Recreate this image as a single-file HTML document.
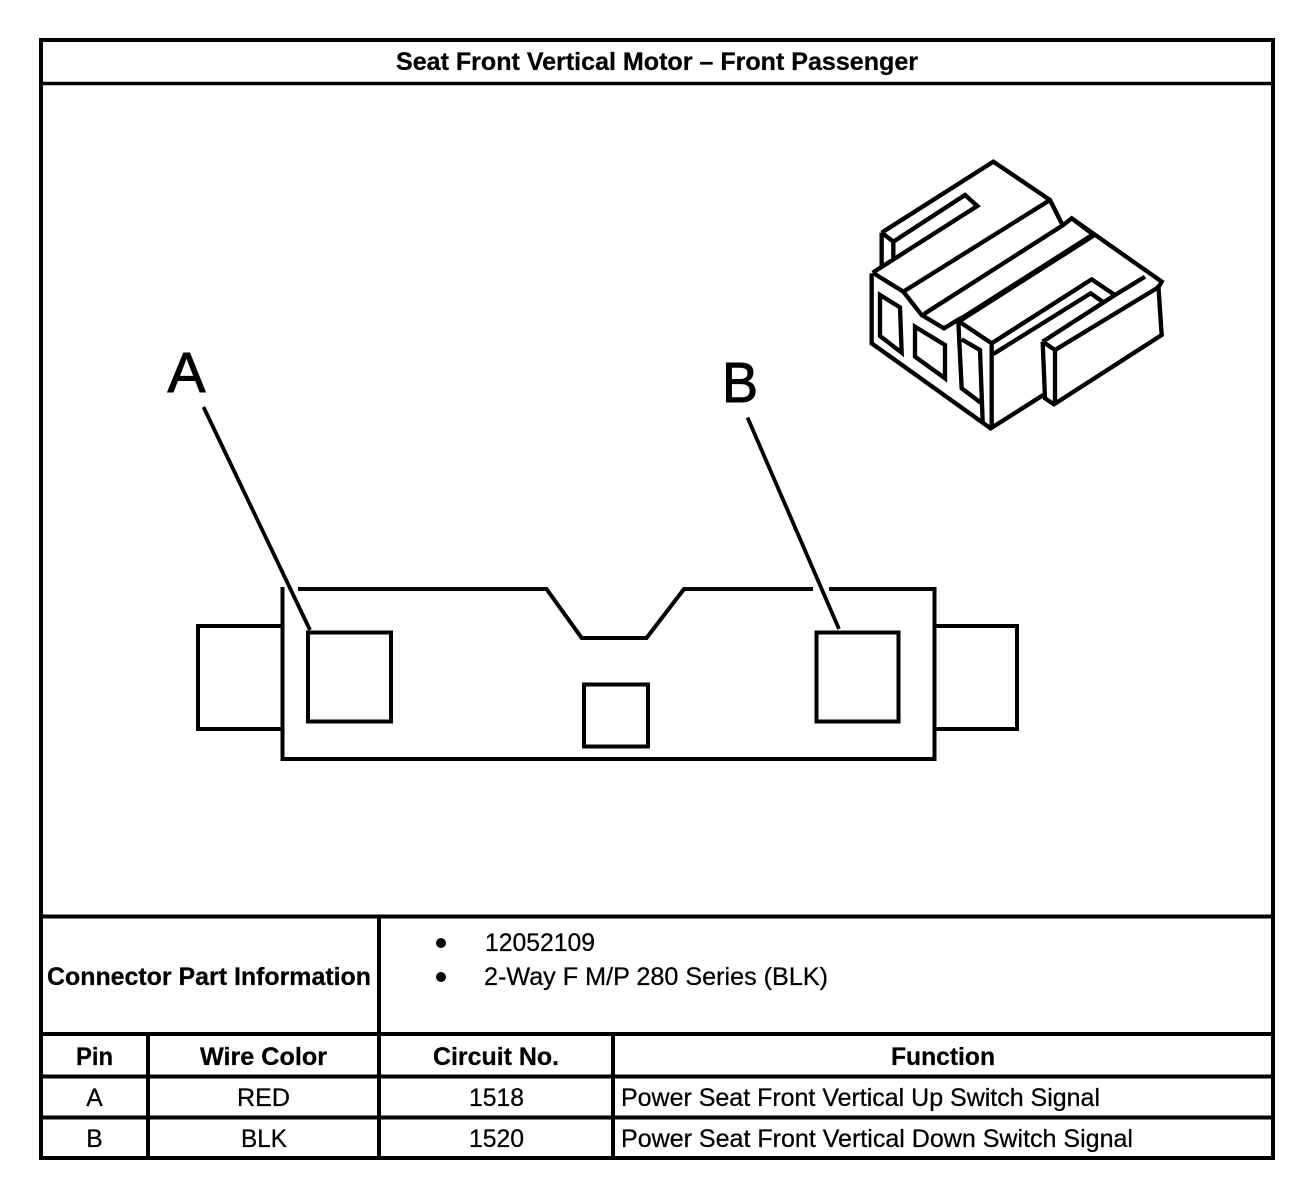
<!DOCTYPE html>
<html><head><meta charset="utf-8"><style>
html,body{margin:0;padding:0;background:#fff;width:1312px;height:1186px;overflow:hidden}
svg{display:block}
text{font-family:"Liberation Sans",Arial,sans-serif;fill:#000;font-size:24.7px;stroke:#000;stroke-width:.25px}
.b{font-weight:bold}
.m{text-anchor:middle}
</style></head><body>
<svg width="1312" height="1186" viewBox="0 0 1312 1186" xmlns="http://www.w3.org/2000/svg">
<rect width="1312" height="1186" fill="#fff"/>
<!-- Frame and table -->
<g fill="none" stroke="#000" stroke-width="4">
<rect x="41" y="40" width="1232" height="1118"/>
<path d="M41 83.5H1273" stroke-width="3.5"/>
<path d="M41 916.5H1273M41 1034H1273M41 1076.500H1273M41 1117.500H1273"/>
<path d="M379 916.500V1158M148 1034V1158M613 1034V1158"/>
</g>
<!-- Title -->
<text class="b m" x="657" y="70" textLength="522" lengthAdjust="spacingAndGlyphs">Seat Front Vertical Motor – Front Passenger</text>
<!-- Front view -->
<g fill="none" stroke="#000" stroke-width="4" stroke-linejoin="miter">
<path d="M282.500 587V759H934.500V589H684L646.500 638H581.700L546.500 589H298"/>
<path d="M281 626H198V729H281"/>
<path d="M936 626H1017V729H936"/>
<rect x="308" y="632.500" width="83" height="89"/>
<rect x="816.500" y="632.500" width="82" height="89"/>
<rect x="584" y="684.500" width="64" height="62"/>
</g>
<rect x="813" y="586" width="16" height="7" fill="#fff"/>
<g stroke="#000" stroke-width="3.800" fill="none">
<path d="M203.500 407L310 630"/>
<path d="M747.500 417.500L839 629"/>
</g>
<text x="167.500" y="392" style="font-size:57px;stroke-width:1px">A</text>
<text x="722" y="402" style="font-size:57px;stroke-width:1px" textLength="36" lengthAdjust="spacingAndGlyphs">B</text>
<!-- Isometric connector -->
<g transform="translate(850 150) scale(.33333)" fill="none" stroke="#000" stroke-width="13" stroke-linejoin="miter">
<path d="M95 248L430 35L600 150L636 222"/>
<path d="M95 248V348M95 248L130 275V330M130 275L345 135L382 168L68 368"/>
<path d="M600 150L160 425"/>
<path d="M68 368L160 425L215 495L282 535L335 503"/>
<path d="M222 492L640 225L665 205L935 395L925 412"/>
<path d="M665 205L728 252"/>
<path d="M330 510L730 255" stroke-width="17"/>
<path d="M328 515L425 580L725 388L795 435L885 380"/>
<path d="M430 612L722 430L765 460"/>
<path d="M578 575L795 435M615 600L925 412"/>
<path d="M578 575L615 600L615 760"/>
<path d="M578 575L585 745L612 763L935 555L925 405"/>
<path d="M425 580V835"/>
<path d="M65 370L65 580L422 835L580 735"/>
<path d="M325 515L335 715L395 760"/>
<path d="M335 568L390 600L398 815"/>
<path d="M90 435L150 472L155 608L90 558Z"/>
<path d="M195 530L285 585L285 685L195 620Z"/>
</g>
<!-- Table text -->
<text class="b" x="47" y="985" textLength="324" lengthAdjust="spacingAndGlyphs">Connector Part Information</text>
<circle cx="441" cy="943" r="5"/>
<circle cx="441" cy="977" r="5"/>
<text x="485" y="951" textLength="110" lengthAdjust="spacingAndGlyphs">12052109</text>
<text x="484" y="985" textLength="344" lengthAdjust="spacingAndGlyphs">2-Way F M/P 280 Series (BLK)</text>
<text class="b m" x="94.500" y="1065" textLength="37" lengthAdjust="spacingAndGlyphs">Pin</text>
<text class="b m" x="263.500" y="1065" textLength="127" lengthAdjust="spacingAndGlyphs">Wire Color</text>
<text class="b m" x="496" y="1065" textLength="126" lengthAdjust="spacingAndGlyphs">Circuit No.</text>
<text class="b m" x="943" y="1065" textLength="104" lengthAdjust="spacingAndGlyphs">Function</text>
<text class="m" x="94.500" y="1106">A</text>
<text class="m" x="263.500" y="1106" textLength="53" lengthAdjust="spacingAndGlyphs">RED</text>
<text class="m" x="496.500" y="1106" textLength="55" lengthAdjust="spacingAndGlyphs">1518</text>
<text x="621" y="1106" textLength="479" lengthAdjust="spacingAndGlyphs">Power Seat Front Vertical Up Switch Signal</text>
<text class="m" x="94.500" y="1147">B</text>
<text class="m" x="264" y="1147" textLength="46" lengthAdjust="spacingAndGlyphs">BLK</text>
<text class="m" x="496.500" y="1147" textLength="55" lengthAdjust="spacingAndGlyphs">1520</text>
<text x="621" y="1147" textLength="512" lengthAdjust="spacingAndGlyphs">Power Seat Front Vertical Down Switch Signal</text>
</svg>
</body></html>
